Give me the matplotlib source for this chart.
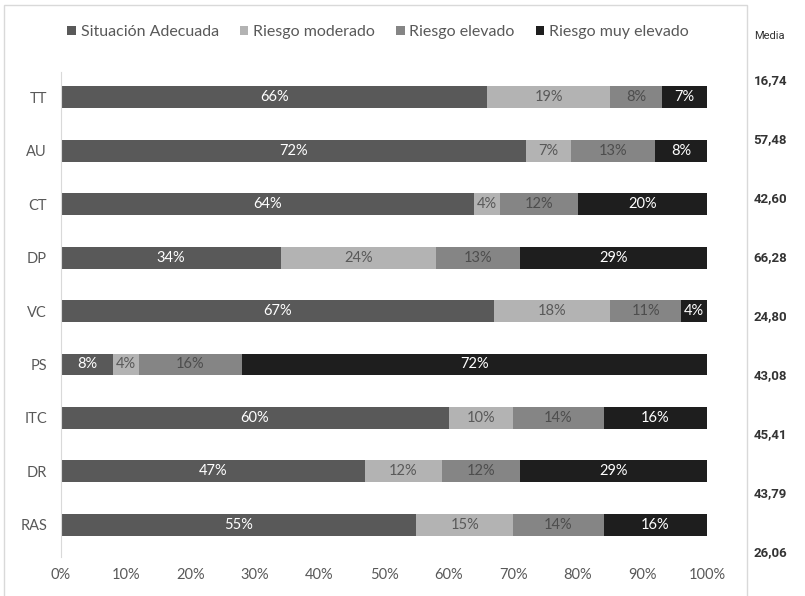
import matplotlib
matplotlib.use("Agg")
import matplotlib.pyplot as plt
from matplotlib.patches import Rectangle
import numpy as np

categories = ["TT", "AU", "CT", "DP", "VC", "PS", "ITC", "DR", "RAS"]
series_names = ["Situación Adecuada", "Riesgo moderado", "Riesgo elevado", "Riesgo muy elevado"]
adecuada = [66, 72, 64, 34, 67, 8, 60, 47, 55]
moderado = [19, 7, 4, 24, 18, 4, 10, 12, 15]
elevado = [8, 13, 12, 13, 11, 16, 14, 12, 14]
muy_elevado = [7, 8, 20, 29, 4, 72, 16, 29, 16]
media = ["16,74", "57,48", "42,60", "66,28", "24,80", "43,08", "45,41", "43,79", "26,06"]

colors = ["#595959", "#b3b3b3", "#858585", "#1e1e1e"]
text_colors = ["white", "#595959", "#4d4d4d", "white"]

plt.rcParams['font.family'] = ['Lato', 'DejaVu Sans']

fig = plt.figure(figsize=(8.05, 5.96), dpi=100)
fig.patches.append(Rectangle((4 / 805, -0.01), (747 - 4) / 805, 1 - 5 / 596 + 0.01,
                             transform=fig.transFigure, fill=False,
                             edgecolor="#d9d9d9", linewidth=1))

ax = fig.add_axes([61 / 805, 1 - 557 / 596, (707 - 61) / 805, (557 - 72) / 596])
y = np.arange(len(categories))
left = np.zeros(len(categories))
for name, vals, c, tc in zip(series_names, [adecuada, moderado, elevado, muy_elevado], colors, text_colors):
    vals = np.array(vals)
    ax.barh(y, vals, left=left, height=0.41, color=c, label=name)
    for yi, l, v in zip(y, left, vals):
        ax.text(l + v / 2, yi, f"{v}%", ha="center", va="center", color=tc, fontsize=10.5)
    left += vals

ax.set_xlim(0, 100)
ax.set_ylim(8.6, -0.47)
ax.set_yticks(y)
ax.set_yticklabels(categories)
ax.set_xticks(range(0, 101, 10))
ax.set_xticklabels([f"{t}%" for t in range(0, 101, 10)])
ax.tick_params(length=0, colors="#595959", labelsize=10.5)
ax.tick_params(axis="x", pad=8)
ax.tick_params(axis="y", pad=10)
for s in ["top", "right", "bottom"]:
    ax.spines[s].set_visible(False)
ax.spines["left"].set_color("#d9d9d9")

leg = fig.legend(loc="center", bbox_to_anchor=(378 / 805, 1 - 32 / 596), ncol=4, frameon=False,
                 fontsize=11.5, handlelength=0.55, handleheight=0.55, handletextpad=0.3,
                 columnspacing=1.3)
for t in leg.get_texts():
    t.set_color("#595959")

# Media column
ax2 = fig.add_axes([750 / 805, 1 - 553 / 596, 45 / 805, (553 - 81) / 596])
ax2.set_ylim(8, 0)
ax2.set_xlim(0, 1)
ax2.axis("off")
for i, m in enumerate(media):
    ax2.text(0.45, i, m, ha="center", va="center", fontsize=9.5, fontweight="bold",
             color="#333333", family=["Roboto", "DejaVu Sans"])
fig.text(769 / 805, 1 - 36 / 596, "Media", ha="center", va="center", fontsize=8,
         color="#333333", family=["Roboto", "DejaVu Sans"])

fig.savefig("out.png", dpi=100)
